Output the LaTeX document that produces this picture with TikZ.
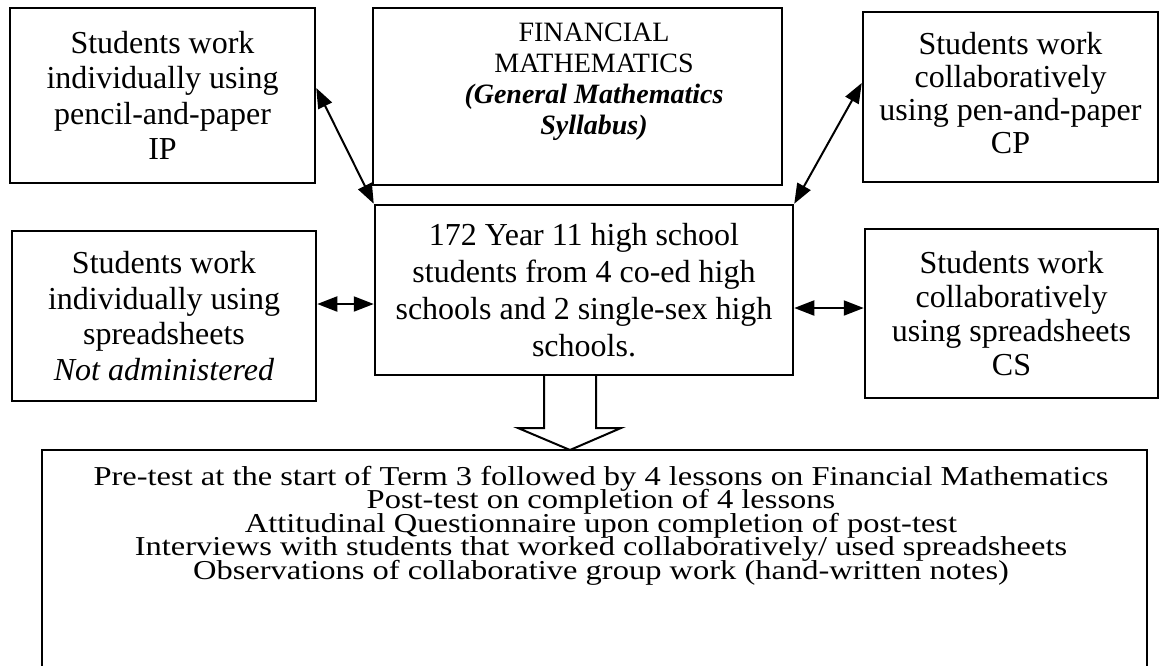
\documentclass[tikz,border=0pt]{standalone}
\usepackage{fontspec}
\setmainfont{Liberation Serif}
\usepackage{graphicx}
\usepackage{tikz}
\usetikzlibrary{arrows.meta}
\tikzstyle{box} = [draw,line width=2.5pt,inner sep=0pt,align=center,font=\fontsize{32}{35.5}\selectfont]
\tikzstyle{link} = [line width=2pt,{Triangle[length=20pt,width=15pt]}-{Triangle[length=20pt,width=15pt]}]

\begin{document}
\begin{tikzpicture}[x=1pt,y=-1pt]
	\useasboundingbox (0,0) rectangle (1160,665);

	% Top row: the two pen-and-paper groups and the topic
	\node[box,minimum width=305pt,minimum height=175pt] (ip) at (162.5,95.5) {Students work\\individually using\\pencil-and-paper\\IP};
	\node[box,minimum width=409pt,minimum height=177pt] (fin) at (577.5,96.5) {};
	\node[align=center,font=\fontsize{28}{31}\selectfont] (fintext) at (594,82) {FINANCIAL\\MATHEMATICS\\\textbf{\textit{(General Mathematics}}\\\textbf{\textit{Syllabus)}}};
	\node[box,minimum width=295pt,minimum height=170pt,font=\fontsize{32}{33}\selectfont] (cp) at (1010.5,97) {\raisebox{8pt}{\begin{tabular}{@{}c@{}}Students work\\collaboratively\\using pen-and-paper\\CP\end{tabular}}};

	% Middle row: the sample between the two spreadsheet groups
	\node[box,minimum width=304pt,minimum height=170pt] (is) at (164,316) {Students work\\individually using\\spreadsheets\\\textit{Not administered}};
	\node[box,minimum width=418pt,minimum height=170pt,font=\fontsize{32}{37}\selectfont] (pop) at (584,290) {172 Year 11 high school\\students from 4 co-ed high\\schools and 2 single-sex high\\schools.};
	\node[box,minimum width=293pt,minimum height=169pt,font=\fontsize{32}{34}\selectfont] (cs) at (1011.5,313.5) {Students work\\collaboratively\\using spreadsheets\\CS};

	% Bottom: what was done with the students (runs off the page)
	\node[box,minimum width=1105pt,minimum height=250pt] (methods) at (594.5,575) {};
	\node[font=\fontsize{32.5}{28}\selectfont] (steps) at (601,525.5) {\scalebox{1}[0.84]{\parbox{1100pt}{\centering\lineskiplimit=-40pt
		Pre-test at the start of Term 3 followed by 4 lessons on Financial Mathematics\\
		Post-test on completion of 4 lessons\\
		Attitudinal Questionnaire upon completion of post-test\\
		Interviews with students that worked collaboratively/ used spreadsheets\\
		Observations of collaborative group work (hand-written notes)}}};

	% Links to the sample
	\draw[link] ([yshift=7.5pt]ip.east) -- (pop.north west);
	\draw[link] ([yshift=14pt]cp.west) -- (pop.north east);
	\draw[link] ([yshift=12pt]is.east) -- ([yshift=12pt]is.east -| pop.west);
	\draw[link] ([yshift=5.5pt]cs.west) -- ([yshift=5.5pt]cs.west -| pop.east);

	% Hollow block arrow down to the methods
	\draw[line width=2pt] (544,375) -- (544,428) -- (518,428) -- (570,450) -- (621,428) -- (596,428) -- (596,375);
\end{tikzpicture}
\end{document}
